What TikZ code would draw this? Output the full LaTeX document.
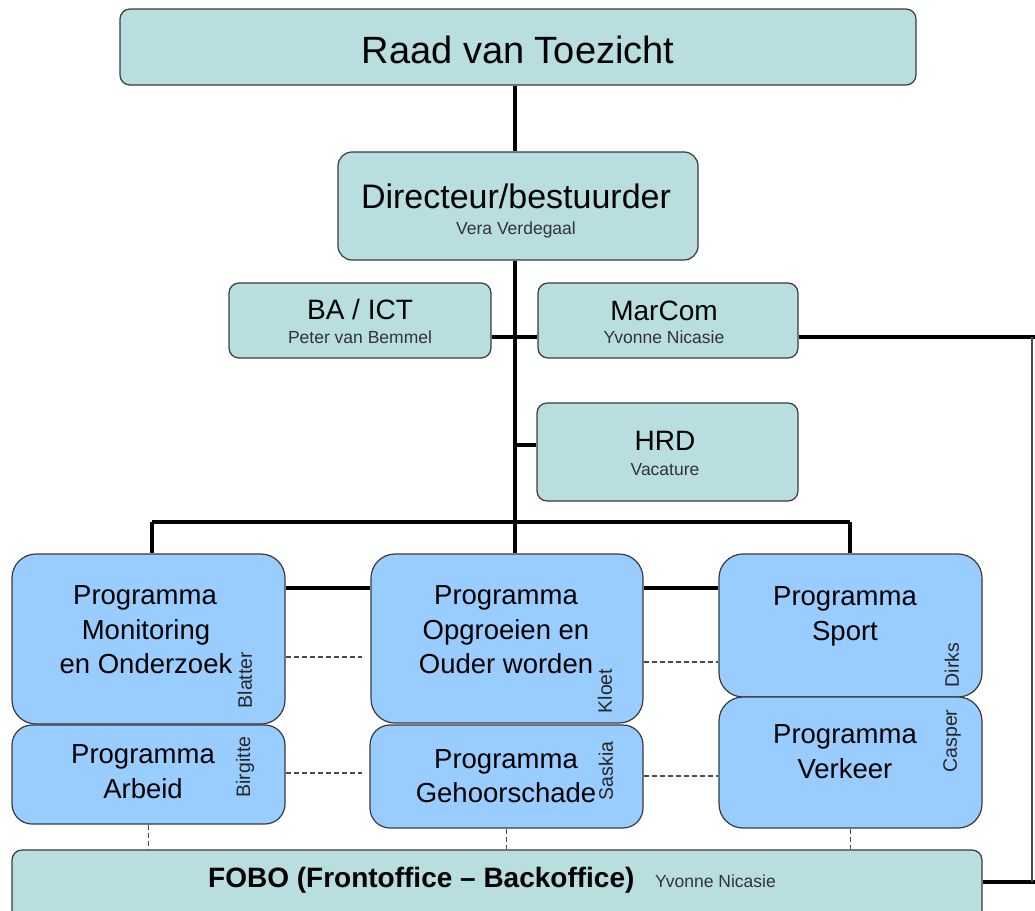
\documentclass[tikz,border=0pt]{standalone}
\usepackage{fontspec}
\setmainfont{Liberation Sans}
\definecolor{boxteal}{HTML}{B8DEE0}
\definecolor{progblue}{HTML}{99CCFF}
\definecolor{edgegray}{HTML}{3A3A3A}
\definecolor{dashgray}{HTML}{4A4A4A}
\begin{document}
\begin{tikzpicture}[x=1pt,y=-1pt,
  tbox/.style={draw=edgegray, line width=1.2pt, fill=boxteal, rounded corners=10pt, inner sep=0pt},
  pbox/.style={draw=edgegray, line width=1.2pt, fill=progblue, rounded corners=24pt, inner sep=0pt},
  txt/.style={anchor=base, inner sep=0pt, text=black},
  fhuge/.style={font=\fontsize{38}{44}\selectfont},
  fbig/.style={font=\fontsize{34}{40}\selectfont},
  fmed/.style={font=\fontsize{28}{33}\selectfont},
  fprog/.style={font=\fontsize{27.5}{33}\selectfont},
  fsmall/.style={font=\fontsize{17.5}{20}\selectfont, text=black!80},
  frot/.style={font=\fontsize{19.5}{22}\selectfont, rotate=90, inner sep=0pt, text=black!85},
  conn/.style={line width=3.3pt, black},
  dashline/.style={line width=1.1pt, dashgray, dash pattern=on 5pt off 3pt},
  sideline/.style={line width=1.2pt, black!70}]
\useasboundingbox (0,0) rectangle (1035,910);
\clip (0,0) rectangle (1035,910);

% boxes
\node[tbox, minimum width=796pt, minimum height=76pt] (raad) at (518,47) {};
\node[tbox, minimum width=360pt, minimum height=108pt, rounded corners=14pt] (dir) at (518,206) {};
\node[tbox, minimum width=262pt, minimum height=75pt] (ba) at (360,320.5) {};
\node[tbox, minimum width=260pt, minimum height=75pt] (mar) at (668,320.5) {};
\node[tbox, minimum width=261pt, minimum height=98pt] (hrd) at (667.5,452) {};
\node[tbox, minimum width=970pt, minimum height=80pt] (fobo) at (497,890) {};

\node[pbox, minimum width=273pt, minimum height=170pt] (mon) at (148.5,639) {};
\node[pbox, minimum width=273pt, minimum height=99pt, rounded corners=20pt] (arb) at (148.5,774.5) {};
\node[pbox, minimum width=272pt, minimum height=169pt] (opg) at (507,638.5) {};
\node[pbox, minimum width=273pt, minimum height=103pt, rounded corners=20pt] (geh) at (506.5,776.5) {};
\node[pbox, minimum width=263pt, minimum height=143pt] (spo) at (850.5,625.5) {};
\node[pbox, minimum width=263pt, minimum height=131pt] (ver) at (850.5,762.5) {};

% texts
\node[txt, fhuge] (traad) at (518,63) {Raad van Toezicht};
\node[txt, fbig] (tdir) at (516,208) {Directeur/bestuurder};
\node[txt, fsmall] (tdirn) at (516,234) {Vera Verdegaal};
\node[txt, fmed] (tba) at (360,319) {BA / ICT};
\node[txt, fsmall] (tban) at (360,343) {Peter van Bemmel};
\node[txt, fmed] (tmar) at (664,320) {MarCom};
\node[txt, fsmall] (tmarn) at (664,343) {Yvonne Nicasie};
\node[txt, fmed] (thrd) at (665,450) {HRD};
\node[txt, fsmall] (thrdn) at (665,475) {Vacature};

\node[txt, fprog] (tmon1) at (145,604) {Programma};
\node[txt, fprog] (tmon2) at (146,639) {Monitoring};
\node[txt, fprog] (tmon3) at (146,673) {en Onderzoek};
\node[txt, fprog] (tarb1) at (143,763) {Programma};
\node[txt, fprog] (tarb2) at (143,798) {Arbeid};
\node[txt, fprog] (topg1) at (506,604) {Programma};
\node[txt, fprog] (topg2) at (506,639) {Opgroeien en};
\node[txt, fprog] (topg3) at (506,673) {Ouder worden};
\node[txt, fprog] (tgeh1) at (506,768) {Programma};
\node[txt, fprog] (tgeh2) at (506,802) {Gehoorschade};
\node[txt, fprog] (tspo1) at (845,605) {Programma};
\node[txt, fprog] (tspo2) at (845,640) {Sport};
\node[txt, fprog] (tver1) at (845,743) {Programma};
\node[txt, fprog] (tver2) at (845,778) {Verkeer};

\node[frot] (rbla) at (245,680) {Blatter};
\node[frot] (rbir) at (245,767) {Birgitte};
\node[frot] (rklo) at (605,691) {Kloet};
\node[frot] (rsas) at (606,771) {Saskia};
\node[frot] (rdir) at (952,665) {Dirks};
\node[frot] (rcas) at (952,741) {Casper};

\node[anchor=base west, inner sep=0pt, font=\bfseries\fontsize{28}{33}\selectfont] (tfobo) at (208,887) {FOBO (Frontoffice – Backoffice)};
\node[anchor=base west, inner sep=0pt, fsmall] (tfobon) at (655,887) {Yvonne Nicasie};

% helper coordinates
\coordinate (trunk) at (515,0);
\coordinate (ybam) at (0,337);
\coordinate (yhrd) at (0,445);
\coordinate (bl) at (152,522);
\coordinate (br) at (850,522);
\coordinate (yc1) at (0,588);
\coordinate (yd1) at (0,657);
\coordinate (yd2) at (0,773);
\coordinate (yd3) at (0,662);
\coordinate (yd4) at (0,776);
\coordinate (dend1) at (362,0);
\coordinate (rtop) at (1035,337);
\coordinate (rbot) at (1035,882);
\coordinate (rvt) at (1032,337);
\coordinate (rvb) at (1032,882);

% solid connectors
\draw[conn] (raad.south -| trunk) -- (dir.north -| trunk);
\draw[conn] (dir.south -| trunk) -- (opg.north -| trunk);
\draw[conn] (bl) -- (br);
\draw[conn] (bl) -- (bl |- mon.north);
\draw[conn] (br) -- (br |- spo.north);
\draw[conn] (ba.east |- ybam) -- (mar.west |- ybam);
\draw[conn] (trunk |- yhrd) -- (hrd.west |- yhrd);
\draw[conn] (mar.east |- ybam) -- (rtop);
\draw[conn] (fobo.east |- rbot) -- (rbot);
\draw[sideline] (rvt) -- (rvb);
\draw[conn] (mon.east |- yc1) -- (opg.west |- yc1);
\draw[conn] (opg.east |- yc1) -- (spo.west |- yc1);

% dashed connectors
\draw[dashline] (mon.east |- yd1) -- (dend1 |- yd1);
\draw[dashline] (arb.east |- yd2) -- (dend1 |- yd2);
\draw[dashline] (opg.east |- yd3) -- (spo.west |- yd3);
\draw[dashline] (geh.east |- yd4) -- (ver.west |- yd4);
\draw[dashline] (arb.south) -- (arb.south |- fobo.north);
\draw[dashline] (geh.south) -- (geh.south |- fobo.north);
\draw[dashline] (ver.south) -- (ver.south |- fobo.north);
\end{tikzpicture}
\end{document}
